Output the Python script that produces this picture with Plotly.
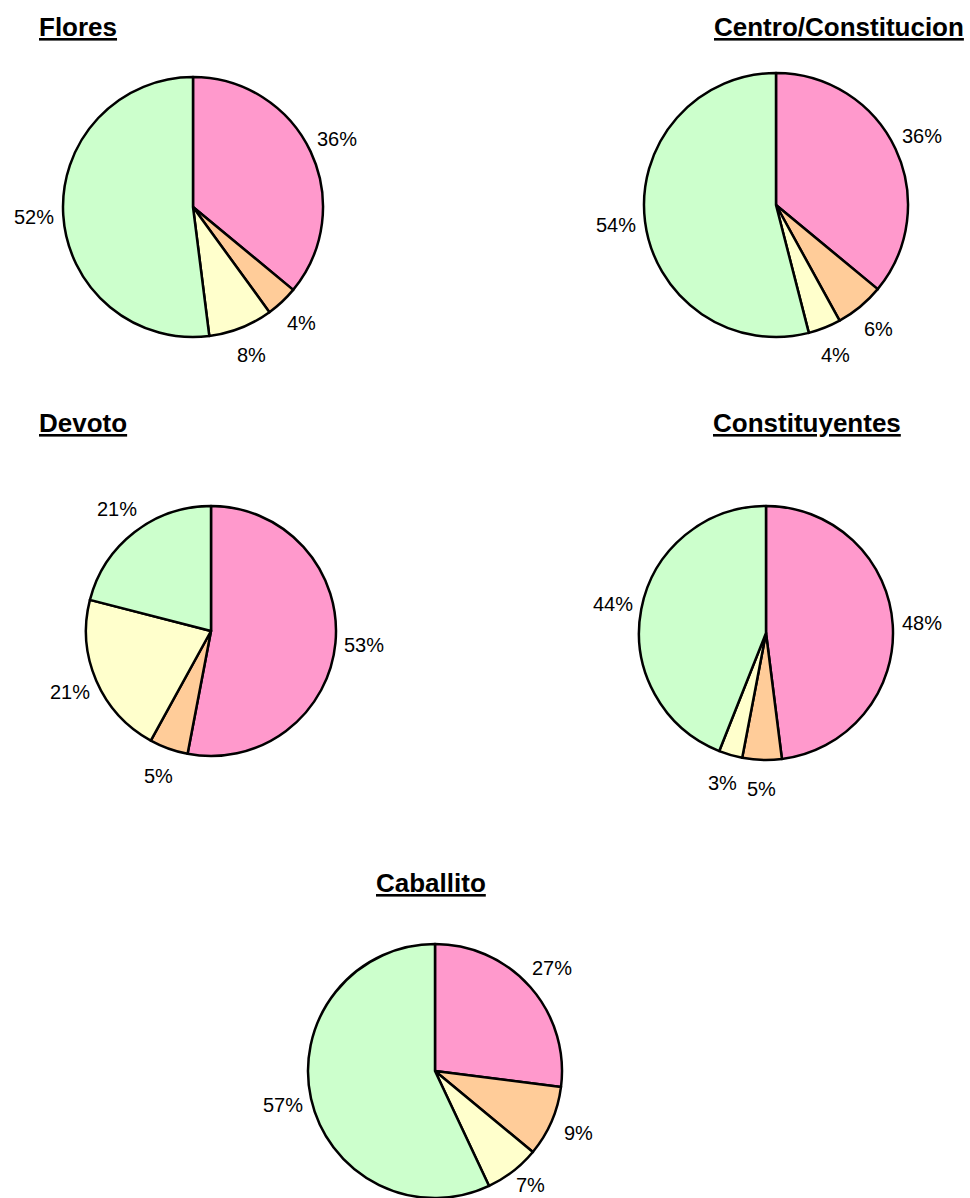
import math
import plotly.graph_objects as go

W, H = 970, 1198

# ---- data ----
regions = ["Flores", "Centro/Constitucion", "Devoto", "Constituyentes", "Caballito"]
flores = [36, 4, 8, 52]
centro = [36, 6, 4, 54]
devoto = [53, 5, 21, 21]
constituyentes = [48, 5, 3, 44]
caballito = [27, 9, 7, 57]
slice_colors = ["#FF99CC", "#FFCC99", "#FFFFCC", "#CCFFCC"]

series = [flores, centro, devoto, constituyentes, caballito]

# ---- layout (pixels) ----
# (center x, center y, radius)
pies = [(193, 207, 130), (776, 205, 132), (211, 631, 125), (766, 633, 127), (435, 1071, 127)]
# (x, y, anchor)
titles = [(37, 27, "left"), (966, 27, "right"), (37, 423, "left"), (903, 423, "right"), (431, 883, "center")]

FONT = "Liberation Sans, Arial, Helvetica, sans-serif"

fig = go.Figure()
annotations = []

def px(x):
    return x / W

def py(y):
    return 1 - y / H

for name, vals, (cx, cy, r), (tx, ty, tanchor) in zip(regions, series, pies, titles):
    fig.add_trace(go.Pie(
        values=vals,
        labels=["a", "b", "c", "d"],
        sort=False,
        direction="clockwise",
        rotation=0,
        marker=dict(colors=slice_colors, line=dict(color="black", width=2.5)),
        textinfo="none",
        hoverinfo="skip",
        showlegend=False,
        domain=dict(x=[px(cx - r), px(cx + r)], y=[py(cy + r), py(cy - r)]),
    ))
    total = sum(vals)
    cum = 0
    for v in vals:
        mid = (cum + v / 2) / total * 2 * math.pi
        cum += v
        d = r + 29
        lx = cx + d * math.sin(mid)
        ly = min(cy - d * math.cos(mid), H - 13)
        annotations.append(dict(
            x=px(lx), y=py(ly), xref="paper", yref="paper",
            text=f"{v}%", showarrow=False,
            xanchor="center", yanchor="middle",
            font=dict(family=FONT, size=20, color="black"),
        ))
    annotations.append(dict(
        x=px(tx), y=py(ty), xref="paper", yref="paper",
        text=f"<b><u>{name}</u></b>", showarrow=False,
        xanchor=tanchor, yanchor="middle",
        font=dict(family=FONT, size=26, color="black"),
    ))

fig.update_layout(
    width=W, height=H,
    margin=dict(l=0, r=0, t=0, b=0),
    paper_bgcolor="white",
    plot_bgcolor="white",
    annotations=annotations,
    font=dict(family=FONT),
)

fig.write_html("out.html", config={"displayModeBar": False},
               post_script="document.body.style.margin='0';document.body.style.overflow='hidden';")
